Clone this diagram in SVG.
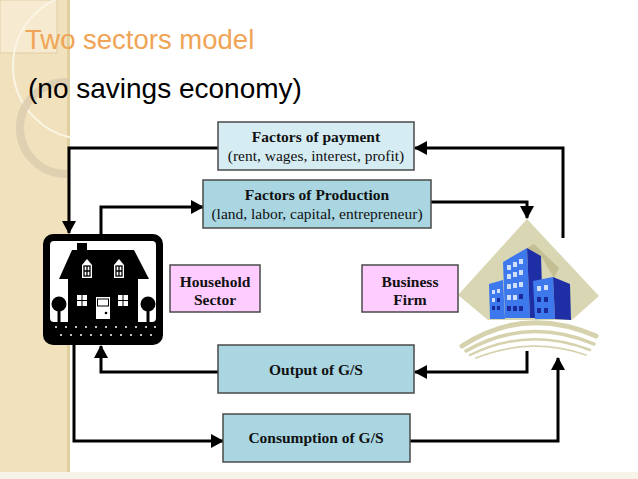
<svg xmlns="http://www.w3.org/2000/svg" width="638" height="479" viewBox="0 0 638 479">
<defs>
<marker id="arr" markerUnits="userSpaceOnUse" markerWidth="13" markerHeight="14" refX="12" refY="7" orient="auto">
<path d="M0,0 L13,7 L0,14 z" fill="#000"/>
</marker>
<clipPath id="side"><rect x="0" y="0" width="70" height="472"/></clipPath>
<style>
.conn{fill:none;stroke:#000;stroke-width:3;marker-end:url(#arr)}
.box{stroke:#4a4a4a;stroke-width:1.5}
.t{font-family:"Liberation Serif","Times New Roman",serif;font-size:15.5px;text-anchor:middle;fill:#111}
.b{font-weight:bold}
.win{fill:#fff}
.bw{fill:#cfe0ff}
.bwd{fill:#1a2a9a}
</style>
</defs>
<rect x="0" y="0" width="638" height="479" fill="#fff"/>
<g id="sidebar">
<rect x="0" y="0" width="70" height="472" fill="#f1e1bd"/>
<rect x="67" y="0" width="3" height="472" fill="#e2cf9f"/>
<g clip-path="url(#side)">
<rect x="0" y="0" width="57" height="53" fill="#f6ead0" stroke="#e0cfa6" stroke-width="1"/>
<circle cx="86" cy="66" r="73" fill="none" stroke="#fbf5e6" stroke-width="2"/>
<circle cx="66" cy="128" r="46" fill="none" stroke="#d9ccae" stroke-width="8" opacity="0.8"/>
</g>
<rect x="0" y="472" width="638" height="7" fill="#f8f3e8"/>
</g>
<g id="title">
<text x="25" y="49" font-family="Liberation Sans, Arial, sans-serif" font-size="27.5" fill="#f0a455">Two sectors model</text>
<text x="28" y="98" font-family="Liberation Sans, Arial, sans-serif" font-size="28" fill="#000">(no savings economy)</text>
</g>
<g id="connectors">
<path class="conn" d="M563,238 V148 H415"/>
<path class="conn" d="M218,148 H69 V233"/>
<path class="conn" d="M101,234 V207 H203"/>
<path class="conn" d="M431,202 H527 V218"/>
<path class="conn" d="M527,351 V372 H415"/>
<path class="conn" d="M218,372 H101 V346"/>
<path class="conn" d="M74,345 V441 H223"/>
<path class="conn" d="M410,441 H558 V358"/>
</g>
<g id="household-icon">
<rect x="43" y="234" width="120" height="111" rx="10" fill="#000"/>
<rect x="50" y="241" width="106" height="81" rx="4" fill="#fff"/>
<rect x="77" y="243" width="10" height="8" fill="#000"/>
<polygon points="72,250 134,250 149,279 59,279" fill="#000"/>
<rect x="68" y="278" width="70" height="44" fill="#000"/>
<path class="win" d="M82,278 V265 L87,259 L92,265 V278 z"/>
<path class="win" d="M114,278 V265 L119,259 L124,265 V278 z"/>
<g fill="none" stroke="#000" stroke-width="1.3">
<rect x="84" y="266" width="6" height="10"/>
<path d="M87,266 V276 M84,271 H90"/>
<rect x="116" y="266" width="6" height="10"/>
<path d="M119,266 V276 M116,271 H122"/>
</g>
<rect x="77" y="295" width="4.5" height="5" class="win"/>
<rect x="82.5" y="295" width="4.5" height="5" class="win"/>
<rect x="77" y="301" width="4.5" height="5" class="win"/>
<rect x="82.5" y="301" width="4.5" height="5" class="win"/>
<rect x="118" y="295" width="4.5" height="5" class="win"/>
<rect x="123.5" y="295" width="4.5" height="5" class="win"/>
<rect x="118" y="301" width="4.5" height="5" class="win"/>
<rect x="123.5" y="301" width="4.5" height="5" class="win"/>
<rect x="96" y="297" width="14" height="22" class="win"/>
<rect x="97.5" y="299" width="11" height="7" fill="none" stroke="#000" stroke-width="1"/>
<circle cx="106" cy="313" r="1.3" fill="#000"/>
<circle cx="59" cy="304" r="7.5" fill="#000"/>
<rect x="57.5" y="308" width="3" height="14" fill="#000"/>
<circle cx="148" cy="304" r="7.5" fill="#000"/>
<rect x="146.5" y="308" width="3" height="14" fill="#000"/>
<g fill="#fff">
<circle cx="56" cy="327" r="1"/><circle cx="66" cy="327" r="1"/><circle cx="76" cy="327" r="1"/><circle cx="86" cy="327" r="1"/><circle cx="96" cy="327" r="1"/><circle cx="106" cy="327" r="1"/><circle cx="116" cy="327" r="1"/><circle cx="126" cy="327" r="1"/><circle cx="136" cy="327" r="1"/><circle cx="146" cy="327" r="1"/><circle cx="155" cy="327" r="1"/>
<circle cx="61" cy="335" r="1"/><circle cx="71" cy="335" r="1"/><circle cx="81" cy="335" r="1"/><circle cx="91" cy="335" r="1"/><circle cx="101" cy="335" r="1"/><circle cx="111" cy="335" r="1"/><circle cx="121" cy="335" r="1"/><circle cx="131" cy="335" r="1"/><circle cx="141" cy="335" r="1"/><circle cx="151" cy="335" r="1"/>
</g>
</g>
<g id="firm-icon">
<polygon points="527,219 599,296 572,320 488,320 458,295" fill="#d9d6b4"/>
<polygon points="527,248 534,244 559,268 554,278 541,256" fill="#c4bf93"/>
<g fill="none" stroke="#d6d2ad" stroke-linecap="round">
<path d="M462,346 Q525,305 596,336" stroke-width="5"/>
<path d="M466,351 Q527,316 594,344" stroke-width="3.5"/>
<path d="M470,355 Q529,326 590,350" stroke-width="2.5"/>
<path d="M476,358 Q531,336 586,355" stroke-width="1.8"/>
</g>
<polygon points="503,262 527,248 530,318 505,318" fill="#3d78ec"/>
<polygon points="527,248 541,256 543,318 530,318" fill="#1e2fa6"/>
<polygon points="489,284 503,280 505,319 490,319" fill="#3d78ec"/>
<polygon points="533,281 553,277 555,319 535,319" fill="#3d78ec"/>
<polygon points="553,277 570,284 571,320 555,319" fill="#1e2fa6"/>
<g class="bw">
<rect x="507" y="265" width="4" height="5"/><rect x="513" y="262" width="4" height="5"/><rect x="519" y="259" width="4" height="5"/>
<rect x="507" y="274" width="4" height="5"/><rect x="513" y="272" width="4" height="5"/><rect x="519" y="270" width="4" height="5"/>
<rect x="507" y="284" width="4" height="5"/><rect x="513" y="283" width="4" height="5"/><rect x="519" y="282" width="4" height="5"/>
<rect x="507" y="295" width="4" height="5"/><rect x="513" y="295" width="4" height="5"/>
<rect x="537" y="286" width="4" height="5"/><rect x="544" y="285" width="4" height="5"/>
<rect x="492" y="290" width="3" height="4"/><rect x="497" y="289" width="3" height="4"/>
<rect x="492" y="298" width="3" height="4"/>
</g>
<g class="bwd">
<rect x="519" y="294" width="4" height="5"/>
<rect x="507" y="306" width="4" height="5"/><rect x="513" y="306" width="4" height="5"/><rect x="519" y="306" width="4" height="5"/>
<rect x="537" y="297" width="4" height="5"/><rect x="544" y="297" width="4" height="5"/>
<rect x="537" y="308" width="4" height="5"/><rect x="544" y="308" width="4" height="5"/>
<rect x="497" y="298" width="3" height="4"/>
<rect x="492" y="306" width="3" height="4"/><rect x="497" y="306" width="3" height="4"/>
</g>
</g>
<g id="factors-of-payment">
<rect class="box" x="218" y="122" width="196" height="48" fill="#d5ecf3"/>
<text class="t b" x="316" y="142">Factors of payment</text>
<text class="t" x="316" y="161">(rent, wages, interest, profit)</text>
</g>
<g id="factors-of-production">
<rect class="box" x="203" y="180" width="228" height="48" fill="#a9d6e1"/>
<text class="t b" x="317" y="200">Factors of Production</text>
<text class="t" x="317" y="219">(land, labor, capital, entrepreneur)</text>
</g>
<g id="household-sector">
<rect class="box" x="170" y="265" width="90" height="47" fill="#ffccff"/>
<text class="t b" x="215" y="287">Household</text>
<text class="t b" x="215" y="305">Sector</text>
</g>
<g id="business-firm">
<rect class="box" x="362" y="265" width="96" height="47" fill="#ffccff"/>
<text class="t b" x="410" y="287">Business</text>
<text class="t b" x="410" y="305">Firm</text>
</g>
<g id="output-gs">
<rect class="box" x="218" y="345" width="196" height="48" fill="#a9d6e1"/>
<text class="t b" x="316" y="375">Output of G/S</text>
</g>
<g id="consumption-gs">
<rect class="box" x="223" y="414" width="187" height="48" fill="#a9d6e1"/>
<text class="t b" x="316" y="443">Consumption of G/S</text>
</g>
</svg>
